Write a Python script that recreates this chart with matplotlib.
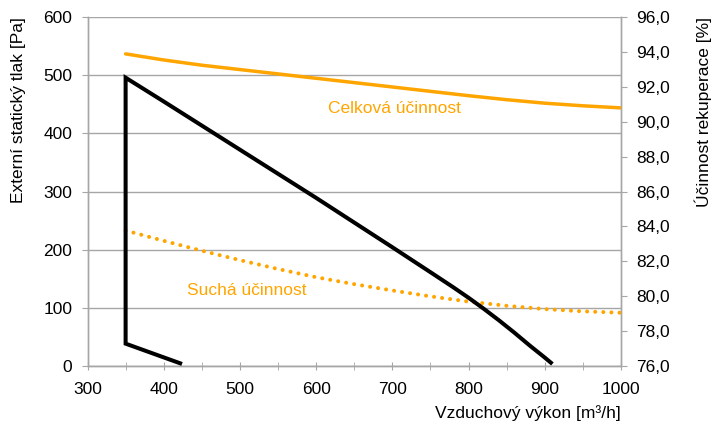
import numpy as np
import matplotlib
matplotlib.use('Agg')
from matplotlib import pyplot as plt
from matplotlib.ticker import MultipleLocator, FuncFormatter


## Pressure curve of the unit (black), incl. the min-flow edge at 350 m3/h
#
flow_pa     = [424, 350, 350, 400, 500, 600, 700, 750, 780, 800, 820, 840, 860, 880, 900, 910]
pressure_pa = [3,   38,  496, 455, 372, 289, 204, 161, 135, 117, 98,  78,  57,  35,  14,  3]

## Heat-recovery efficiency curves [%]
#
flow_eff   = [350, 400, 450, 500, 550, 600, 650, 700, 750, 800, 850, 900, 950, 1000]
eff_total  = [93.9, 93.55, 93.25, 93.0, 92.75, 92.5, 92.25, 92.0, 91.75, 91.5, 91.27, 91.07, 90.92, 90.8]
eff_dry    = [83.76, 83.17, 82.6, 82.06, 81.55, 81.08, 80.68, 80.32, 79.98, 79.68, 79.44, 79.25, 79.12, 79.04]

label_total = 'Celková účinnost'
label_dry   = 'Suchá účinnost'

ORANGE = '#FFA500'
GRID   = '#A6A6A6'

plt.rcParams['font.family'] = ['Liberation Sans', 'DejaVu Sans']
plt.rcParams['font.size'] = 12.5

fig = plt.figure(figsize=(7.12, 4.25), dpi=100)
ax = fig.add_axes([0.1229, 0.1395, 0.8722 - 0.1229, 0.9593 - 0.1395])
ax2 = ax.twinx()

ax.set_xlim(300, 1000)
ax.set_ylim(0, 600)
ax2.set_ylim(76, 96)

ax.xaxis.set_major_locator(MultipleLocator(100))
ax.xaxis.set_minor_locator(MultipleLocator(50))
ax.yaxis.set_major_locator(MultipleLocator(100))
ax2.yaxis.set_major_locator(MultipleLocator(2))
ax2.yaxis.set_major_formatter(FuncFormatter(lambda v, _: ('%.1f' % v).replace('.', ',')))

ax.grid(axis='y', color=GRID, lw=1.0)
ax.set_axisbelow(True)

for a in (ax, ax2):
    for s in ('left', 'right', 'bottom'):
        a.spines[s].set_color(GRID)
        a.spines[s].set_linewidth(1.0)
    a.spines['top'].set_visible(False)

ax.tick_params(axis='x', which='both', direction='inout', length=6, color=GRID, pad=8.5)
ax.tick_params(axis='y', direction='out', length=4, color=GRID, pad=7)
ax2.tick_params(axis='y', direction='out', length=4, color=GRID, pad=7)

## Curves
#
ax2.plot(flow_eff, eff_total, color=ORANGE, lw=2.5, solid_capstyle='round', zorder=3)
ax2.plot(flow_eff, eff_dry, color=ORANGE, lw=2.9, linestyle=(0, (0.01, 2.0)),
         dash_capstyle='round', zorder=3)
ax2.plot(flow_pa, pressure_pa, transform=ax.transData, color='black', lw=2.9,
         solid_joinstyle='miter', solid_capstyle='butt', zorder=4)

ax.text(616, 443, label_total, color=ORANGE, va='center', ha='left')
ax.text(430, 130, label_dry, color=ORANGE, va='center', ha='left')

## Axis titles, top aligned like in the original
#
fig.text(19 / 712, 1 - 17 / 425, 'Externí statický tlak [Pa]', rotation=90, ha='center', va='top')
fig.text(703 / 712, 1 - 17 / 425, 'Účinnost rekuperace [%]', rotation=90, ha='center', va='top')
fig.text(621 / 712, 1 - 413 / 425, 'Vzduchový výkon [m³/h]', ha='right', va='center')

fig.savefig('out.png', dpi=100)
